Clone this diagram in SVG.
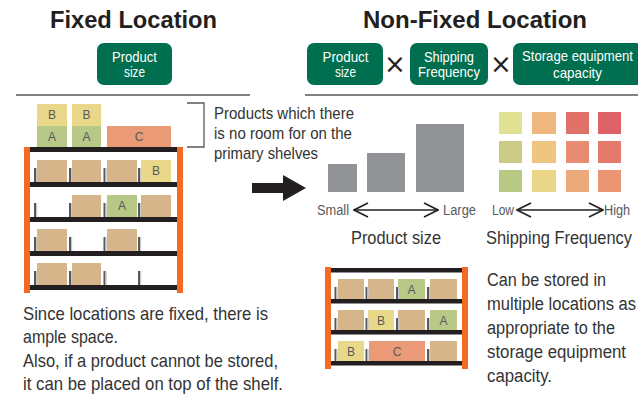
<svg xmlns="http://www.w3.org/2000/svg" width="638" height="396" viewBox="0 0 638 396">
  <defs>
    <style>
      .title { font-family: "Liberation Sans", Arial, sans-serif; font-weight: bold; font-size: 23px; fill: #231f20; }
      .nar { font-family: "Liberation Sans", Arial, sans-serif; }
      .tag { fill: #006f4f; }
      .tagt { font-size: 15px; fill: #ffffff; text-anchor: middle; }
      .body { font-size: 19px; fill: #333333; }
      .note { font-size: 17px; fill: #333333; }
      .axis { font-size: 14px; fill: #58595b; }
      .cap { font-size: 18px; fill: #333333; text-anchor: middle; }
      .rule { stroke: #808285; stroke-width: 2; fill: none; }
      .post { fill: #f26a25; }
      .deck { fill: #231f20; }
      .tan { fill: #d7b58a; }
      .yel { fill: #e9d88a; }
      .grn { fill: #b8c987; }
      .org { fill: #ea9a76; }
      .lbl { font-family: "Liberation Sans", Arial, sans-serif; font-size: 12px; fill: #58595b; text-anchor: middle; }
      .bar { fill: #929397; }
      .dbl { stroke: #231f20; stroke-width: 1.6; fill: none; }
      .times { font-family: "DejaVu Sans", sans-serif; font-size: 26px; fill: #231f20; text-anchor: middle; }
    </style>
    <!-- small upright stop between slots -->
    <g id="stop">
      <rect x="0" y="0" width="2" height="14" fill="#58595b"/>
      <rect x="2" y="0" width="1.2" height="14" fill="#c7c8ca"/>
    </g>
    <g id="stopS">
      <rect x="0" y="0" width="2" height="12" fill="#58595b"/>
      <rect x="2" y="0" width="1.2" height="12" fill="#c7c8ca"/>
    </g>
    <marker id="chev" viewBox="0 0 16 16" refX="15" refY="8" markerWidth="16" markerHeight="16" markerUnits="userSpaceOnUse" orient="auto-start-reverse">
      <path d="M1,1 L15,8 L1,15" fill="none" stroke="#231f20" stroke-width="1.6"/>
    </marker>
  </defs>

  <rect width="638" height="396" fill="#ffffff"/>

  <!-- headings -->
  <g id="title-fixed">
    <text class="title" x="133.5" y="28" text-anchor="middle" textLength="167" lengthAdjust="spacingAndGlyphs">Fixed Location</text>
  </g>
  <g id="title-nonfixed">
    <text class="title" x="475" y="28" text-anchor="middle" textLength="224" lengthAdjust="spacingAndGlyphs">Non-Fixed Location</text>
  </g>

  <!-- factor tags -->
  <g id="tag-fixed-size">
    <rect class="tag" x="97" y="43" width="75" height="42" rx="7"/>
    <text class="nar tagt" x="134.5" y="61.5" textLength="45" lengthAdjust="spacingAndGlyphs">Product</text>
    <text class="nar tagt" x="134.5" y="77" textLength="21" lengthAdjust="spacingAndGlyphs">size</text>
  </g>
  <g id="tag-size">
    <rect class="tag" x="307" y="43" width="76" height="42" rx="7"/>
    <text class="nar tagt" x="345.5" y="61.5" textLength="46" lengthAdjust="spacingAndGlyphs">Product</text>
    <text class="nar tagt" x="345.5" y="77" textLength="21" lengthAdjust="spacingAndGlyphs">size</text>
  </g>
  <text class="times" x="395" y="73">×</text>
  <g id="tag-frequency">
    <rect class="tag" x="410" y="43" width="78" height="42" rx="7"/>
    <text class="nar tagt" x="449" y="61.5" textLength="50" lengthAdjust="spacingAndGlyphs">Shipping</text>
    <text class="nar tagt" x="449" y="77" textLength="62" lengthAdjust="spacingAndGlyphs">Frequency</text>
  </g>
  <text class="times" x="501" y="73">×</text>
  <g id="tag-capacity">
    <rect class="tag" x="513" y="43" width="130" height="42" rx="7"/>
    <text class="nar tagt" transform="translate(577.5,60.5) scale(0.9,1)" x="0" y="0" font-size="14.5" textLength="123.3" lengthAdjust="spacingAndGlyphs">Storage equipment</text>
    <text class="nar tagt" x="577.5" y="77.5" font-size="14.5" textLength="49" lengthAdjust="spacingAndGlyphs">capacity</text>
  </g>

  <!-- section rules -->
  <line class="rule" x1="16" y1="95" x2="250" y2="95"/>
  <line class="rule" x1="305" y1="95" x2="638" y2="95"/>

  <!-- fixed-location rack -->
  <g id="rack-fixed">
    <!-- overflow stacked on top -->
    <rect class="yel" x="37" y="104" width="30" height="22"/>
    <rect class="grn" x="37" y="126" width="30" height="21"/>
    <rect class="yel" x="72" y="104" width="29" height="22"/>
    <rect class="grn" x="72" y="126" width="29" height="21"/>
    <rect class="org" x="107" y="126" width="64" height="21"/>
    <text class="lbl" x="52" y="119">B</text>
    <text class="lbl" x="52" y="141">A</text>
    <text class="lbl" x="86.5" y="119">B</text>
    <text class="lbl" x="86.5" y="141">A</text>
    <text class="lbl" x="139" y="141">C</text>

    <!-- row 1 -->
    <rect class="tan" x="37" y="160" width="30" height="22"/>
    <rect class="tan" x="72" y="160" width="29" height="22"/>
    <rect class="tan" x="107" y="160" width="30" height="22"/>
    <rect class="yel" x="141" y="160" width="30" height="22"/>
    <text class="lbl" x="156" y="175">B</text>
    <use href="#stop" x="34" y="168"/>
    <use href="#stop" x="69" y="168"/>
    <use href="#stop" x="103.5" y="168"/>
    <use href="#stop" x="138" y="168"/>

    <!-- row 2 -->
    <rect class="tan" x="72" y="195" width="29" height="22"/>
    <rect class="grn" x="107" y="195" width="30" height="22"/>
    <rect class="tan" x="141" y="195" width="30" height="22"/>
    <text class="lbl" x="122" y="210">A</text>
    <use href="#stop" x="34" y="203"/>
    <use href="#stop" x="69" y="203"/>
    <use href="#stop" x="103.5" y="203"/>
    <use href="#stop" x="138" y="203"/>

    <!-- row 3 -->
    <rect class="tan" x="37" y="229" width="30" height="22"/>
    <rect class="tan" x="107" y="229" width="30" height="22"/>
    <use href="#stop" x="34" y="237"/>
    <use href="#stop" x="69" y="237"/>
    <use href="#stop" x="103.5" y="237"/>
    <use href="#stop" x="138" y="237"/>

    <!-- row 4 -->
    <rect class="tan" x="37" y="263" width="30" height="22"/>
    <rect class="tan" x="72" y="263" width="29" height="22"/>
    <use href="#stop" x="34" y="271"/>
    <use href="#stop" x="69" y="271"/>
    <use href="#stop" x="103.5" y="271"/>
    <use href="#stop" x="138" y="271"/>

    <!-- frame -->
    <rect class="deck" x="30" y="147" width="147" height="5"/>
    <rect class="deck" x="30" y="182" width="147" height="5"/>
    <rect class="deck" x="30" y="217" width="147" height="5"/>
    <rect class="deck" x="30" y="251" width="147" height="5"/>
    <rect class="deck" x="30" y="285" width="147" height="5"/>
    <rect class="post" x="24" y="147" width="6" height="146"/>
    <rect class="post" x="177" y="147" width="6" height="146"/>
  </g>

  <!-- overflow note -->
  <g id="note-overflow">
    <polyline points="187,103 204,103 204,147 187,147" fill="none" stroke="#58595b" stroke-width="1.3"/>
    <text class="nar note" x="214" y="119" textLength="140" lengthAdjust="spacingAndGlyphs">Products which there</text>
    <text class="nar note" x="214" y="139" textLength="138" lengthAdjust="spacingAndGlyphs">is no room for on the</text>
    <text class="nar note" x="214" y="159" textLength="104" lengthAdjust="spacingAndGlyphs">primary shelves</text>
  </g>

  <!-- product size scale -->
  <g id="size-scale">
    <rect class="bar" x="328" y="164" width="29" height="28"/>
    <rect class="bar" x="367" y="153" width="38" height="39"/>
    <rect class="bar" x="416" y="124" width="48" height="68"/>
    <text class="nar axis" x="317" y="215" textLength="32" lengthAdjust="spacingAndGlyphs">Small</text>
    <text class="nar axis" x="443" y="215" textLength="33" lengthAdjust="spacingAndGlyphs">Large</text>
    <text class="nar cap" x="396" y="244" textLength="90" lengthAdjust="spacingAndGlyphs">Product size</text>
  </g>

  <!-- shipping frequency scale -->
  <g id="frequency-scale">
    <rect x="499" y="112" width="23" height="22" fill="#e1e193"/>
    <rect x="532" y="112" width="24" height="22" fill="#ecb87d"/>
    <rect x="566" y="112" width="23" height="22" fill="#e07169"/>
    <rect x="598" y="112" width="23" height="22" fill="#de6167"/>
    <rect x="499" y="141" width="23" height="22" fill="#cbcb87"/>
    <rect x="532" y="141" width="24" height="22" fill="#efc67e"/>
    <rect x="566" y="141" width="23" height="22" fill="#e88b72"/>
    <rect x="598" y="141" width="23" height="22" fill="#e47a6a"/>
    <rect x="499" y="170" width="23" height="22" fill="#b8c986"/>
    <rect x="532" y="170" width="24" height="22" fill="#e9d686"/>
    <rect x="566" y="170" width="23" height="22" fill="#eca979"/>
    <rect x="598" y="170" width="23" height="22" fill="#ea9674"/>
    <text class="nar axis" x="492" y="215" textLength="22" lengthAdjust="spacingAndGlyphs">Low</text>
    <text class="nar axis" x="604" y="215" textLength="26" lengthAdjust="spacingAndGlyphs">High</text>
    <text class="nar cap" transform="translate(559,244) scale(0.91,1)" x="0" y="0" textLength="160.4" lengthAdjust="spacingAndGlyphs">Shipping Frequency</text>
  </g>

  <!-- arrows -->
  <g id="connectors">
    <polygon points="252,183 283,183 283,175 306,188 283,201 283,193 252,193" fill="#231f20"/>
    <line class="dbl" x1="354" y1="210" x2="438" y2="210" marker-start="url(#chev)" marker-end="url(#chev)"/>
    <line class="dbl" x1="517" y1="210" x2="603" y2="210" marker-start="url(#chev)" marker-end="url(#chev)"/>
  </g>

  <!-- non-fixed rack -->
  <g id="rack-nonfixed">
    <!-- row 1 -->
    <rect class="tan" x="338" y="279" width="26" height="20"/>
    <rect class="tan" x="368" y="279" width="26" height="20"/>
    <rect class="grn" x="398" y="279" width="27" height="20"/>
    <rect class="tan" x="430" y="279" width="27" height="20"/>
    <text class="lbl" x="411.5" y="293.5">A</text>
    <use href="#stopS" x="334.5" y="287"/>
    <use href="#stopS" x="365.5" y="287"/>
    <use href="#stopS" x="396" y="287"/>
    <use href="#stopS" x="427" y="287"/>

    <!-- row 2 -->
    <rect class="tan" x="338" y="310" width="26" height="20"/>
    <rect class="yel" x="368" y="310" width="26" height="20"/>
    <rect class="tan" x="398" y="310" width="27" height="20"/>
    <rect class="grn" x="430" y="310" width="27" height="20"/>
    <text class="lbl" x="381" y="324.5">B</text>
    <text class="lbl" x="443.5" y="324.5">A</text>
    <use href="#stopS" x="334.5" y="318"/>
    <use href="#stopS" x="365.5" y="318"/>
    <use href="#stopS" x="396" y="318"/>
    <use href="#stopS" x="427" y="318"/>

    <!-- row 3 -->
    <rect class="yel" x="338" y="341" width="26" height="20"/>
    <rect class="org" x="369" y="341" width="56" height="20"/>
    <rect class="tan" x="430" y="341" width="27" height="20"/>
    <text class="lbl" x="351" y="355.5">B</text>
    <text class="lbl" x="397" y="355.5">C</text>
    <use href="#stopS" x="334.5" y="349"/>
    <use href="#stopS" x="365.5" y="349"/>
    <use href="#stopS" x="427" y="349"/>

    <!-- frame -->
    <rect class="deck" x="331" y="268" width="131" height="4.5"/>
    <rect class="deck" x="331" y="299" width="131" height="4.5"/>
    <rect class="deck" x="331" y="330" width="131" height="4.5"/>
    <rect class="deck" x="331" y="361" width="131" height="4.5"/>
    <rect class="post" x="325" y="267" width="6" height="102"/>
    <rect class="post" x="462" y="267" width="6" height="102"/>
  </g>

  <!-- explanations -->
  <g id="text-fixed">
    <text class="nar body" x="23" y="320" textLength="245" lengthAdjust="spacingAndGlyphs">Since locations are fixed, there is</text>
    <text class="nar body" x="23" y="343" textLength="95" lengthAdjust="spacingAndGlyphs">ample space.</text>
    <text class="nar body" x="23" y="367" textLength="255" lengthAdjust="spacingAndGlyphs">Also, if a product cannot be stored,</text>
    <text class="nar body" x="23" y="390" textLength="260" lengthAdjust="spacingAndGlyphs">it can be placed on top of the shelf.</text>
  </g>
  <!-- narrowed horizontally so the block fits beside the rack -->
  <g id="text-nonfixed" transform="translate(487,0) scale(0.84,1)">
    <text class="nar body" x="0" y="286" textLength="141.7" lengthAdjust="spacingAndGlyphs">Can be stored in</text>
    <text class="nar body" x="0" y="310" textLength="177.4" lengthAdjust="spacingAndGlyphs">multiple locations as</text>
    <text class="nar body" x="0" y="334" textLength="152.4" lengthAdjust="spacingAndGlyphs">appropriate to the</text>
    <text class="nar body" x="0" y="358" textLength="165.5" lengthAdjust="spacingAndGlyphs">storage equipment</text>
    <text class="nar body" x="0" y="382" textLength="77.4" lengthAdjust="spacingAndGlyphs">capacity.</text>
  </g>
</svg>
